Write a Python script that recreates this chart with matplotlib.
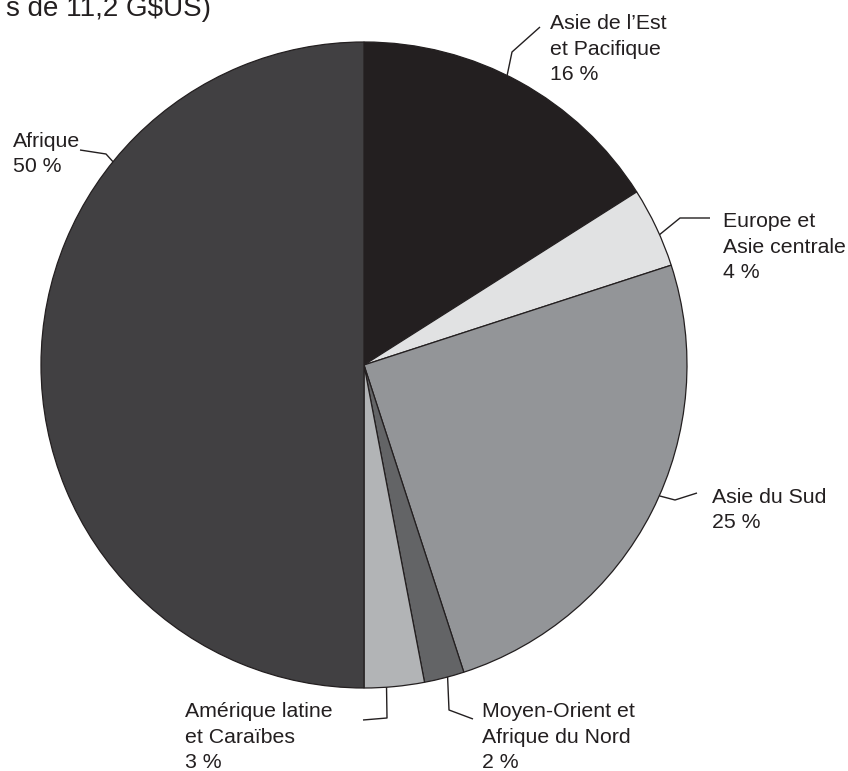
import matplotlib.pyplot as plt
import numpy as np

plt.rcParams['font.family'] = ['Liberation Sans', 'DejaVu Sans']

# données : répartition par région (%)
regions = ['Asie de l\u2019Est\net Pacifique', 'Europe et\nAsie centrale', 'Asie du Sud',
           'Moyen-Orient et\nAfrique du Nord', 'Amérique latine\net Caraïbes', 'Afrique']
shares = [16, 4, 25, 2, 3, 50]
colors = ['#231f20', '#e1e2e3', '#939598', '#636466', '#b2b4b6', '#414042']
title_tail = 's de 11,2 G$US)'

W, H = 848, 771
TXT = '#231f20'


def py(y):
    # coordonnées pixel (haut = 0) -> données
    return H - y


# mise en page des étiquettes : angle d'ancrage, coude, bout,
# position du texte (ligne de base de la dernière ligne)
layout = [
    dict(ang=63.7, elbow=(512, 52), end=(540, 27), text=(550, 80)),
    dict(ang=23.8, elbow=(680, 218), end=(710, 218), text=(723, 278)),
    dict(ang=-23.9, elbow=(675, 500), end=(697, 493), text=(712, 528)),
    dict(ang=-75.0, elbow=(449, 710), end=(473, 719), text=(482, 768)),
    dict(ang=-86.0, elbow=(387, 718), end=(363, 720), text=(185, 768)),
    dict(ang=141.0, elbow=(106, 154), end=(80, 150), text=(13, 172)),
]

cx, cy, r = 364, 365, 323

fig = plt.figure(figsize=(W / 100, H / 100), dpi=100)
ax = fig.add_axes([0, 0, 1, 1])

ax.pie(shares, colors=colors, startangle=90, counterclock=False,
       center=(cx, py(cy)), radius=r,
       wedgeprops=dict(edgecolor=TXT, linewidth=0.9))

for name, val, lay in zip(regions, shares, layout):
    a = np.deg2rad(lay['ang'])
    x0 = cx + r * np.cos(a)
    y0 = cy - r * np.sin(a)
    xs = [x0, lay['elbow'][0], lay['end'][0]]
    ys = [py(y0), py(lay['elbow'][1]), py(lay['end'][1])]
    ax.plot(xs, ys, color=TXT, lw=1.0, solid_capstyle='butt')
    ax.text(lay['text'][0], py(lay['text'][1]), f'{name}\n{val} %',
            fontsize=15.3, color=TXT, ha='left', va='baseline', linespacing=1.42)

ax.text(211, py(16), title_tail, fontsize=20, color=TXT, ha='right', va='baseline')

ax.set_xlim(0, W)
ax.set_ylim(0, H)
ax.set_aspect('equal')
ax.axis('off')

fig.savefig('out.png', dpi=100)
